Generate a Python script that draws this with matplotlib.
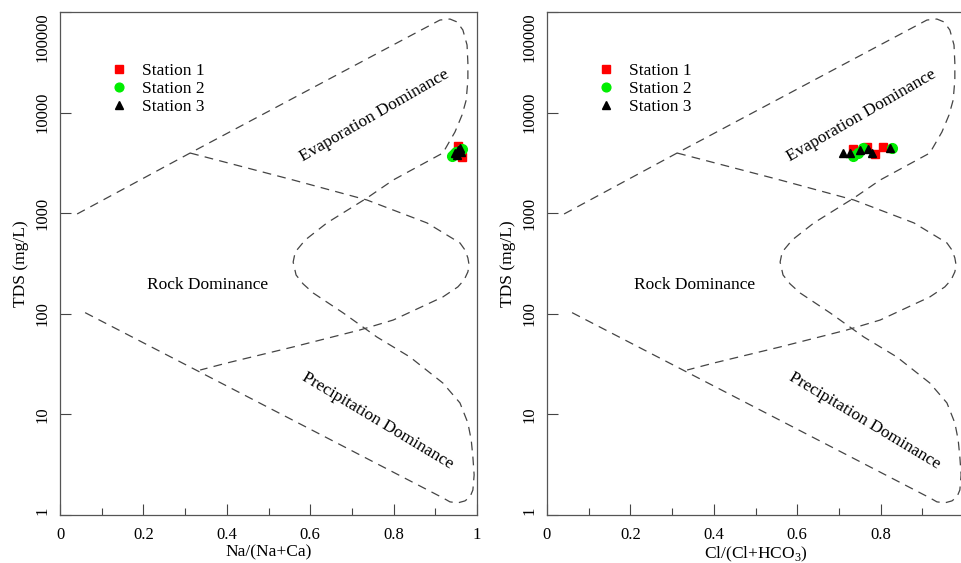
import numpy as np
import matplotlib
matplotlib.use("Agg")
import matplotlib.pyplot as plt
from matplotlib.ticker import FixedLocator, NullLocator, NullFormatter

plt.rcParams['font.family'] = ['Liberation Serif', 'DejaVu Serif']
plt.rcParams['mathtext.fontset'] = 'custom'
plt.rcParams['mathtext.rm'] = 'Liberation Serif'

# Gibbs boundary curves (x ratio, TDS mg/L)
outer_x = [0.041, 0.312, 0.911, 0.935, 0.952, 0.966, 0.976, 0.978, 0.978, 0.974,
           0.964, 0.947, 0.918, 0.799, 0.736, 0.640, 0.588, 0.564, 0.559, 0.566,
           0.583, 0.607, 0.679, 0.760, 0.839, 0.918, 0.959, 0.978, 0.986, 0.990,
           0.993, 0.990, 0.983, 0.971, 0.954, 0.935, 0.918, 0.048]
outer_tds = [982, 3963, 83180, 85110, 79620, 66220, 46990, 31120, 21090, 13340,
             9462, 6412, 3963, 2138, 1416, 800, 542, 411, 327, 243,
             198, 161, 102, 58.7, 37.2, 20.5, 13.0, 8.22, 5.57, 3.78,
             2.50, 1.77, 1.51, 1.38, 1.32, 1.35, 1.48, 109]

inner_x = [0.312, 0.559, 0.736, 0.880, 0.959, 0.971, 0.978, 0.981, 0.978, 0.969,
           0.954, 0.918, 0.799, 0.719, 0.559, 0.400, 0.336]
inner_tds = [3963, 2138, 1352, 800, 506, 431, 359, 305, 261, 217,
             185, 147, 86.7, 69.0, 46.8, 32.4, 27.6]

# samples, left panel Na/(Na+Ca)
na_s1 = [0.955, 0.965, 0.960, 0.950]
tds_na_s1 = [4700, 3600, 4200, 4000]
na_s2 = [0.940, 0.965, 0.950, 0.945]
tds_na_s2 = [3700, 4300, 4100, 3900]
na_s3 = [0.948, 0.955, 0.960, 0.952, 0.962]
tds_na_s3 = [4000, 4200, 4400, 3800, 4100]

# samples, right panel Cl/(Cl+HCO3)
cl_s1 = [0.734, 0.767, 0.787, 0.806]
tds_cl_s1 = [4350, 4500, 3900, 4500]
cl_s2 = [0.734, 0.746, 0.758, 0.827]
tds_cl_s2 = [3700, 4000, 4400, 4450]
cl_s3 = [0.710, 0.727, 0.751, 0.770, 0.779, 0.823]
tds_cl_s3 = [3950, 4000, 4250, 4350, 4000, 4450]

yticks = [1, 10, 100, 1000, 10000, 100000]
ytick_labels = ['1', '10', '100', '1000', '10000', '100000']

fig = plt.figure(figsize=(9.62, 5.63), dpi=100)
ax1 = fig.add_axes([0.0624, 0.0853, 0.4335, 0.8934])
ax2 = fig.add_axes([0.5686, 0.0853, 0.4335, 0.8934])

panels = [
    (ax1, 'Na/(Na+Ca)', (na_s1, tds_na_s1), (na_s2, tds_na_s2), (na_s3, tds_na_s3),
     ['0', '0.2', '0.4', '0.6', '0.8', '1']),
    (ax2, r'Cl/(Cl+HCO$_3$)', (cl_s1, tds_cl_s1), (cl_s2, tds_cl_s2), (cl_s3, tds_cl_s3),
     ['0', '0.2', '0.4', '0.6', '0.8', '']),
]

for ax, xlab, s1, s2, s3, xtl in panels:
    ax.set_yscale('log')
    ax.set_xlim(0, 1)
    ax.set_ylim(1, 100000)

    ax.plot(outer_x, outer_tds, color='#444444', lw=0.9, dashes=(7, 5))
    ax.plot(inner_x, inner_tds, color='#444444', lw=0.9, dashes=(7, 5))

    ax.plot(s1[0], s1[1], 's', color='#ff0000', ms=6, ls='none', label='Station 1')
    ax.plot(s2[0], s2[1], 'o', color='#00ee00', ms=7, ls='none', label='Station 2')
    ax.plot(s3[0], s3[1], '^', color='black', ms=6, ls='none', label='Station 3')

    ax.text(0.753, 9300, 'Evaporation Dominance', rotation=30, ha='center', va='center',
            fontsize=12.5, rotation_mode='anchor')
    ax.text(0.353, 194, 'Rock Dominance', ha='center', va='center', fontsize=12.5)
    ax.text(0.762, 8.6, 'Precipitation Dominance', rotation=-31, ha='center', va='center',
            fontsize=12.5, rotation_mode='anchor')

    ax.xaxis.set_major_locator(FixedLocator([0, 0.2, 0.4, 0.6, 0.8, 1.0]))
    ax.xaxis.set_minor_locator(FixedLocator([0.1, 0.3, 0.5, 0.7, 0.9]))
    ax.set_xticklabels(xtl)
    ax.yaxis.set_major_locator(FixedLocator(yticks))
    ax.yaxis.set_minor_locator(NullLocator())
    ax.yaxis.set_minor_formatter(NullFormatter())
    ax.set_yticklabels(ytick_labels, rotation=90, va='center')
    ylabels = ax.get_yticklabels()
    ylabels[0].set_va('bottom')
    ylabels[-1].set_va('top')

    ax.tick_params(which='major', direction='in', length=8, width=0.8, color='#444444',
                   labelsize=12, pad=7)
    ax.tick_params(axis='x', which='major', pad=9)
    ax.tick_params(which='minor', direction='in', length=5, width=0.8, color='#444444')
    for sp in ax.spines.values():
        sp.set_color('#555555')
        sp.set_linewidth(0.9)

    ax.set_xlabel(xlab, fontsize=12.5, labelpad=1)
    ax.set_ylabel('TDS (mg/L)', fontsize=12.5, labelpad=4)

    ax.legend(loc='upper left', bbox_to_anchor=(0.1, 0.916), frameon=False, fontsize=12.5,
              handlelength=1.0, handletextpad=0.8, labelspacing=0.1, borderpad=0,
              markerscale=0.9)

ax2.spines['right'].set_visible(False)

fig.savefig('out.png', dpi=100)
plt.close(fig)
